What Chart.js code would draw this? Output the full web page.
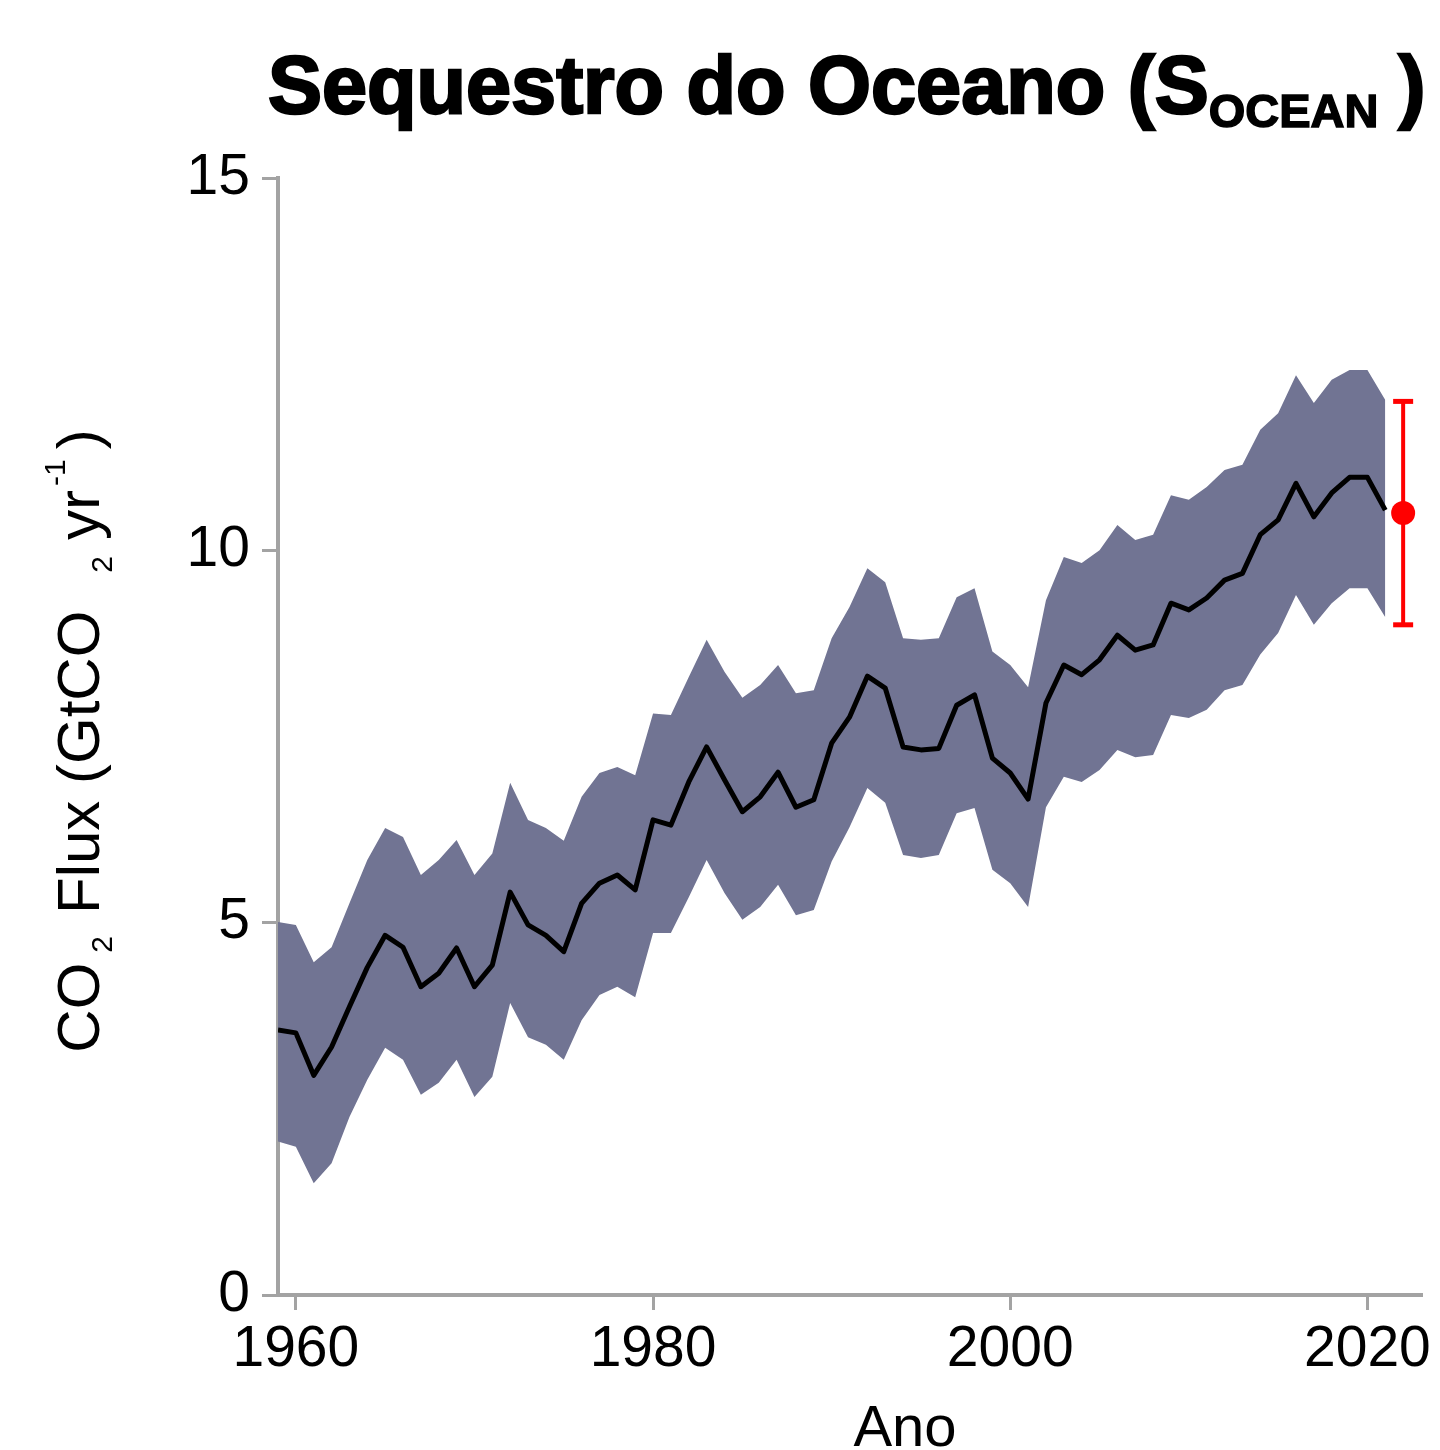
<!DOCTYPE html>
<html>
<head>
<meta charset="utf-8">
<title>Sequestro do Oceano</title>
<script src="https://cdn.jsdelivr.net/npm/chart.js@4.4.1/dist/chart.umd.min.js"></script>
<style>
  html, body { margin: 0; padding: 0; background: #fff; }
  #wrap { width: 1440px; height: 1450px; position: relative; }
</style>
</head>
<body>
<div id="wrap"><canvas id="oceanChart"></canvas></div>
<script>
// Ocean sink (GtCO2/yr)
const years = [1959, 1960, 1961, 1962, 1963, 1964, 1965, 1966, 1967, 1968,
  1969, 1970, 1971, 1972, 1973, 1974, 1975, 1976, 1977, 1978,
  1979, 1980, 1981, 1982, 1983, 1984, 1985, 1986, 1987, 1988,
  1989, 1990, 1991, 1992, 1993, 1994, 1995, 1996, 1997, 1998,
  1999, 2000, 2001, 2002, 2003, 2004, 2005, 2006, 2007, 2008,
  2009, 2010, 2011, 2012, 2013, 2014, 2015, 2016, 2017, 2018,
  2019, 2020, 2021];

const sinkMean = [3.56, 3.52, 2.95, 3.33, 3.87, 4.40, 4.83, 4.67, 4.14, 4.32,
  4.66, 4.14, 4.43, 5.41, 4.97, 4.83, 4.61, 5.26, 5.53, 5.64,
  5.44, 6.38, 6.31, 6.89, 7.36, 6.92, 6.49, 6.69, 7.02, 6.55,
  6.65, 7.41, 7.76, 8.31, 8.15, 7.36, 7.32, 7.34, 7.92, 8.06,
  7.21, 7.01, 6.66, 7.95, 8.46, 8.33, 8.53, 8.86, 8.66, 8.73,
  9.29, 9.20, 9.36, 9.60, 9.69, 10.21, 10.41, 10.90, 10.45, 10.77,
  10.98, 10.98, 10.54];

const sinkUpper = [5.01, 4.97, 4.47, 4.67, 5.26, 5.84, 6.27, 6.15, 5.64, 5.84,
  6.11, 5.64, 5.93, 6.88, 6.38, 6.27, 6.10, 6.69, 7.01, 7.09,
  6.98, 7.81, 7.79, 8.30, 8.80, 8.37, 8.02, 8.19, 8.46, 8.08,
  8.12, 8.82, 9.24, 9.76, 9.57, 8.82, 8.80, 8.82, 9.37, 9.49,
  8.64, 8.46, 8.16, 9.33, 9.91, 9.83, 10.00, 10.34, 10.14, 10.21,
  10.74, 10.68, 10.85, 11.08, 11.15, 11.62, 11.84, 12.35, 11.98, 12.29,
  12.42, 12.42, 12.02];

const sinkLower = [2.06, 1.99, 1.50, 1.77, 2.39, 2.89, 3.32, 3.16, 2.69, 2.85,
  3.16, 2.66, 2.93, 3.92, 3.46, 3.36, 3.16, 3.69, 4.03, 4.14,
  4.00, 4.86, 4.86, 5.34, 5.84, 5.40, 5.04, 5.21, 5.51, 5.10,
  5.17, 5.82, 6.28, 6.81, 6.61, 5.91, 5.87, 5.91, 6.47, 6.54,
  5.71, 5.53, 5.21, 6.55, 6.96, 6.89, 7.05, 7.32, 7.22, 7.25,
  7.79, 7.75, 7.86, 8.12, 8.19, 8.60, 8.89, 9.40, 9.00, 9.29,
  9.49, 9.49, 9.10];

// projection for the current year, with its uncertainty
const projYear = [2022];
const projValue = [10.5];
const projLow = [9.0];
const projHigh = [12.0];

const xTicks = [1960, 1980, 2000, 2020];
const yTicks = [0, 5, 10, 15];

const FONT = '"Liberation Sans", Arial, Helvetica, sans-serif';
const AXIS_GREY = '#a3a3a3';
const BAND = '#717493';

const toPoints = vals => vals.map((v, i) => ({ x: years[i], y: v }));

// draws a row of text pieces (sub/superscripts via dy)
function drawRuns(ctx, runs, x, y, align) {
  let total = 0;
  runs.forEach(r => {
    if (r.text) { ctx.font = r.font; r.w = ctx.measureText(r.text).width; }
    else r.w = r.gap;
    total += r.w;
  });
  let cx = align === 'center' ? x - total / 2 : x;
  runs.forEach(r => {
    if (r.text) {
      ctx.font = r.font;
      ctx.fillText(r.text, cx, y + (r.dy || 0));
      if (r.stroke) {
        ctx.lineWidth = r.stroke;
        ctx.strokeText(r.text, cx, y + (r.dy || 0));
      }
    }
    cx += r.w;
  });
}

const labelsPlugin = {
  id: 'labels',
  afterDraw(chart) {
    const ctx = chart.ctx;
    ctx.save();
    ctx.fillStyle = '#000';
    ctx.strokeStyle = '#000';
    ctx.textBaseline = 'alphabetic';
    ctx.textAlign = 'left';

    // title
    drawRuns(ctx, [
      { text: 'Sequestro do Oceano (S', font: 'bold 81px ' + FONT, stroke: 2.5 },
      { text: 'OCEAN', font: 'bold 47px ' + FONT, dy: 14, stroke: 1.5 },
      { gap: 20 },
      { text: ')', font: 'bold 81px ' + FONT, stroke: 2.5 }
    ], 268, 113, 'left');

    // y axis title, rotated
    ctx.save();
    ctx.translate(99, 741);
    ctx.rotate(-Math.PI / 2);
    drawRuns(ctx, [
      { text: 'CO', font: '60px ' + FONT },
      { gap: 10 },
      { text: '2', font: '30px ' + FONT, dy: 13 },
      { gap: 22 },
      { text: 'Flux (GtCO', font: '60px ' + FONT },
      { gap: 38 },
      { text: '2', font: '30px ' + FONT, dy: 13 },
      { gap: 16 },
      { text: 'yr', font: '60px ' + FONT },
      { gap: 4 },
      { text: '-1', font: '30px ' + FONT, dy: -34 },
      { gap: 10 },
      { text: ')', font: '60px ' + FONT }
    ], 0, 0, 'center');
    ctx.restore();

    // x axis title
    ctx.font = '58px ' + FONT;
    ctx.textAlign = 'center';
    ctx.fillText('Ano', 905, 1446);
    ctx.restore();
  }
};

const ctx = document.getElementById('oceanChart').getContext('2d');
new Chart(ctx, {
  type: 'line',
  data: {
    datasets: [
      {
        label: 'upper',
        data: toPoints(sinkUpper),
        borderWidth: 0,
        pointRadius: 0,
        backgroundColor: BAND,
        fill: '+1',
        order: 3
      },
      {
        label: 'lower',
        data: toPoints(sinkLower),
        borderWidth: 0,
        pointRadius: 0,
        fill: false,
        order: 3
      },
      {
        label: 'S_OCEAN',
        data: toPoints(sinkMean),
        borderColor: '#000',
        borderWidth: 5,
        borderJoinStyle: 'round',
        pointRadius: 0,
        fill: false,
        order: 1
      },
      {
        label: 'range',
        data: [{ x: projYear[0], y: projLow[0] }, { x: projYear[0], y: projHigh[0] }],
        borderColor: '#ff0000',
        borderWidth: 4,
        pointStyle: 'line',
        pointRadius: 10,
        pointBorderWidth: 5,
        pointBorderColor: '#ff0000',
        fill: false,
        order: 0
      },
      {
        label: 'projection',
        data: [{ x: projYear[0], y: projValue[0] }],
        showLine: false,
        pointRadius: 12,
        pointBorderWidth: 0,
        pointBackgroundColor: '#ff0000',
        order: 0
      }
    ]
  },
  options: {
    responsive: true,
    maintainAspectRatio: false,
    animation: false,
    layout: { padding: { top: 178, right: 19, left: 0, bottom: 0 } },
    plugins: {
      legend: { display: false },
      tooltip: { enabled: false }
    },
    scales: {
      x: {
        type: 'linear',
        min: 1959,
        max: 2023,
        afterFit(scale) { scale.height = 155; },
        afterBuildTicks(scale) { scale.ticks = xTicks.map(v => ({ value: v })); },
        ticks: {
          font: { size: 57, family: FONT },
          color: '#000',
          padding: 6,
          maxRotation: 0,
          autoSkip: false,
          callback: v => String(v)
        },
        grid: { drawOnChartArea: false, drawTicks: true, tickLength: 15, color: AXIS_GREY, lineWidth: 3 },
        border: { color: AXIS_GREY, width: 4 }
      },
      y: {
        min: 0,
        max: 15,
        afterFit(scale) { scale.width = 278; },
        afterBuildTicks(scale) { scale.ticks = yTicks.map(v => ({ value: v })); },
        ticks: {
          font: { size: 57, family: FONT },
          color: '#000',
          padding: 12,
          callback: v => String(v)
        },
        grid: { drawOnChartArea: false, drawTicks: true, tickLength: 16, color: AXIS_GREY, lineWidth: 3 },
        border: { color: AXIS_GREY, width: 4 }
      }
    }
  },
  plugins: [labelsPlugin]
});
</script>
</body>
</html>
